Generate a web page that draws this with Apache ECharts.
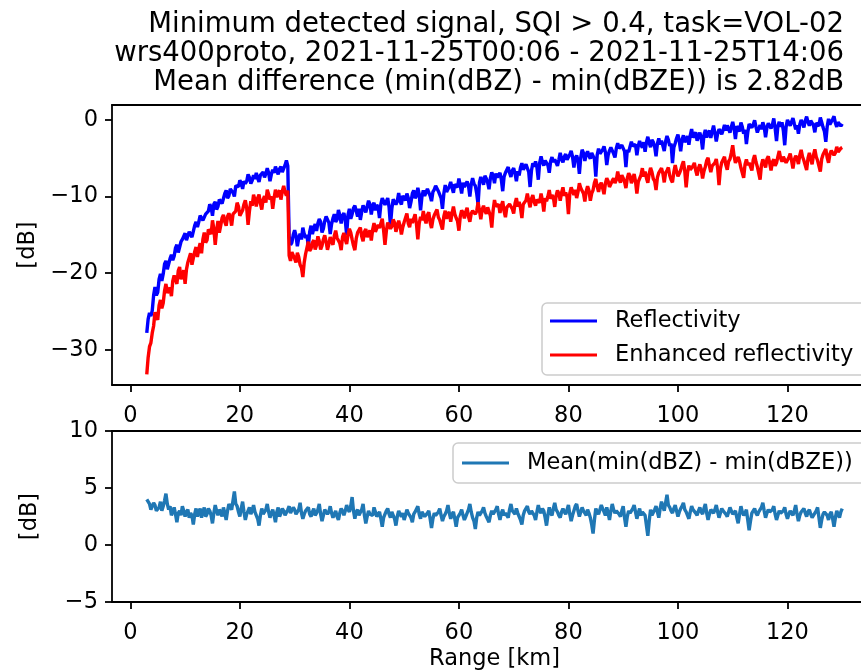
<!DOCTYPE html>
<html>
<head>
<meta charset="utf-8">
<script src="https://cdn.jsdelivr.net/npm/echarts@6/dist/echarts.min.js"></script>
<style>
html,body{margin:0;padding:0;background:#fff;overflow:hidden;}
#chart{width:861px;height:670px;}
</style>
</head>
<body>
<div id="chart"></div>
<script>
// Range bins (km): 3.0 km to 130.0 km every 0.25 km
const rangeStartKm = 3.0;
const rangeStepKm = 0.25;

// Minimum detected signal, Reflectivity (dBZ) [dB]
const reflectivity = [
  -27.8, -26.0, -25.2, -25.6, -24.9, -22.9, -21.8, -22.9, -22.5, -20.8, -20.1, -21.0, -20.1, -18.8, -18.4, -19.5, -19.7, -18.1, -17.6, -18.3,
  -17.8, -16.7, -16.3, -17.3, -17.4, -15.9, -15.6, -15.6, -14.8, -15.7, -15.8, -14.6, -14.4, -15.3, -15.5, -13.8, -13.3, -14.0, -13.3, -12.5,
  -12.4, -13.1, -13.3, -12.3, -12.4, -11.9, -11.0, -11.4, -12.5, -11.0, -10.7, -11.7, -11.3, -10.4, -10.2, -10.9, -11.1, -9.6, -9.2, -10.2,
  -9.9, -9.0, -8.8, -9.5, -10.0, -8.6, -8.5, -8.7, -7.9, -8.2, -9.0, -8.0, -8.3, -8.0, -7.1, -7.5, -8.3, -7.9, -7.2, -7.7,
  -6.9, -7.6, -8.1, -7.2, -7.0, -6.8, -7.5, -7.0, -6.3, -6.9, -8.0, -7.1, -6.5, -6.9, -6.1, -6.6, -7.1, -6.4, -6.1, -6.8,
  -6.6, -5.9, -5.3, -6.0,
  -15.2, -16.3, -16.0, -15.0, -14.4, -15.1, -16.5, -15.4, -14.85, -15.6, -14.05, -14.9, -15.4, -15.0, -16.6, -14.6, -13.8, -14.9, -14.15, -13.6,
  -14.5, -13.5, -12.95, -13.3, -14.7, -14.2, -13.2, -12.6, -12.75, -13.4, -14.9, -13.6, -12.85, -12.3, -13.3, -13.0, -11.75, -12.4, -13.5, -12.5,
  -12.15, -13.1, -15.0, -12.4, -11.6, -12.9, -12.3, -11.5, -11.2, -11.9, -12.6, -11.6, -13.05, -12.0, -11.15, -11.4, -12.05, -11.9, -10.55, -11.0,
  -12.35, -11.2, -10.8, -11.8, -11.1, -11.4, -12.8, -11.0, -10.2, -10.6, -11.1, -10.9, -10.2, -11.4, -13.75, -11.6, -10.35, -10.2, -11.05, -10.6,
  -9.55, -10.6, -11.05, -9.9, -10.05, -10.5, -9.6, -10.2, -11.5, -10.7, -9.6, -9.2, -10.2, -9.9, -8.85, -9.7, -11.8, -10.0, -9.2, -9.9,
  -9.8, -9.0, -8.85, -9.9, -10.6, -9.4, -9.1, -8.6, -8.55, -9.3, -9.75, -10.2, -11.6, -9.6, -8.5, -9.4, -9.05, -8.7, -8.1, -8.9,
  -9.5, -8.4, -8.65, -8.8, -7.65, -8.6, -9.6, -8.2, -8.75, -8.9, -8.05, -8.6, -10.0, -8.4, -7.6, -8.3, -8.6, -9.6, -11.0, -8.2,
  -7.45, -7.9, -8.45, -7.3, -7.65, -8.2, -9.05, -7.6, -6.85, -7.3, -8.25, -7.0, -7.5, -7.6, -6.9, -7.8, -9.3, -7.4, -6.9, -7.1,
  -6.15, -6.9, -7.45, -6.6, -6.3, -7.0, -8.0, -6.7, -7.25, -6.2, -5.65, -6.5, -6.5, -5.8, -5.6, -6.8, -8.75, -6.6, -5.65, -6.1,
  -5.4, -6.2, -7.8, -5.6, -4.75, -5.5, -5.95, -5.3, -5.2, -5.9, -6.9, -5.4, -4.85, -5.5, -5.15, -5.0, -6.0, -5.2, -4.3, -5.1,
  -5.55, -4.8, -4.45, -5.2, -5.0, -4.5, -4.05, -4.8, -6.2, -5.0, -4.65, -5.3, -7.05, -4.9, -3.9, -4.3, -5.35, -4.5, -4.1, -4.7,
  -5.05, -4.3, -4.2, -5.1, -7.4, -4.6, -3.75, -4.4, -4.5, -3.9, -3.45, -4.2, -5.9, -4.6, -4.0, -3.6, -3.55, -4.4, -4.9, -3.7,
  -3.05, -3.7, -3.9, -3.3, -3.2, -4.1, -6.15, -3.9, -4.2, -3.5, -2.85, -3.4, -3.25, -3.2, -4.6, -3.4, -2.75, -3.3, -3.6, -2.9,
  -4.15, -2.9, -2.2, -3.0, -3.55, -2.6, -2.9, -3.5, -4.75, -3.1, -2.4, -3.2, -2.7, -2.5, -4.05, -2.8, -2.1, -2.6, -3.4, -3.1,
  -5.65, -3.6, -3.05, -2.4, -1.9, -2.8, -4.1, -2.6, -2.0, -2.9, -2.55, -2.1, -3.25, -2.0, -1.2, -2.3, -2.0, -1.6, -2.7, -2.2,
  -1.65, -2.4, -3.85, -2.0, -1.3, -2.3, -1.7, -1.4, -2.35, -1.5, -0.75, -1.7, -2.8, -1.8, -1.2, -1.1, -1.85, -1.3, -0.65, -1.4,
  -0.7, -1.2, -1.65, -0.9, -0.25, -1.1, -2.5, -0.8, -1.0, -1.5, -0.35, -0.9, -1.8, -1.3, -3.15, -1.6, -0.55, -0.3, -1.0, -0.6,
  -0.05, -0.9, -1.65, -1.1, -0.7, -1.2, -0.3, -0.9, -2.25, -1.0, -0.45, -0.2, -1.1, -0.6, 0.2, -1.1, -2.75, -0.8, -0.25, -0.9,
  -0.3, -1.4, -3.3, -0.9, 0.0, -0.2, -0.75, -0.6, 0.25, -0.5, -1.23, -0.7, -1.81, -0.6, 0.0, -0.4, -0.98, -0.1, 0.43, -0.3,
  -0.75, -0.1, 0.16, -0.7, -1.62, -0.4, -0.2, -0.8, 0.31, -0.3, -0.97, -1.5, -2.86, -0.9, 0.15, -0.6, -0.44, 0.1, 0.47, -0.4,
  -0.9, -0.3, -0.1, -0.8, -0.5
];

// Minimum detected signal, Enhanced reflectivity (dBZE) [dB]
const enhancedReflectivity = [
  -33.2, -31.0, -29.6, -29.1, -27.8, -26.9, -25.1, -25.2, -26.1, -24.2, -23.5, -24.6, -23.9, -22.3, -21.4, -22.6, -22.2, -21.9, -23.0, -21.0,
  -20.3, -20.4, -21.4, -19.7, -19.2, -20.8, -20.3, -19.6, -21.4, -19.5, -18.6, -18.5, -17.4, -18.9, -18.7, -17.2, -16.6, -17.9, -16.8, -16.1,
  -17.4, -15.6, -14.7, -16.0, -15.7, -14.3, -14.6, -14.9, -13.1, -14.2, -16.3, -14.5, -13.2, -14.7, -13.8, -12.8, -12.4, -13.3, -13.8, -12.6,
  -12.2, -12.7, -13.8, -12.3, -12.1, -11.9, -10.8, -11.3, -12.5, -12.4, -11.8, -11.0, -10.5, -11.5, -13.7, -11.9, -10.6, -11.2, -9.75, -10.4,
  -11.3, -10.2, -9.75, -10.9, -11.7, -10.4, -9.95, -10.8, -9.1, -9.7, -10.4, -10.0, -11.6, -10.2, -9.1, -10.1, -9.5, -9.2, -10.4, -9.3,
  -8.6, -9.4, -9.9, -9.2,
  -17.7, -18.4, -17.25, -17.0, -18.1, -18.6, -17.35, -17.9, -18.9, -19.3, -20.5, -18.6, -17.5, -16.7, -15.9, -17.1, -16.8, -16.0, -15.7, -16.9,
  -16.35, -15.2, -15.8, -16.9, -16.4, -15.6, -15.05, -15.9, -16.95, -16.2, -15.3, -15.8, -16.3, -15.1, -14.45, -15.4, -15.75, -16.1, -17.0, -15.3,
  -14.75, -15.6, -16.2, -15.0, -14.2, -14.7, -15.6, -16.4, -17.0, -15.5, -14.7, -14.9, -14.05, -15.2, -15.85, -14.6, -14.25, -15.3, -14.85, -14.4,
  -15.75, -14.3, -13.45, -14.6, -14.85, -13.7, -14.1, -13.9, -12.9, -14.4, -16.3, -14.5, -13.4, -13.5, -14.2, -13.9, -13.0, -13.4, -14.6, -13.9,
  -13.15, -13.8, -14.95, -14.0, -13.35, -13.1, -12.2, -13.5, -14.0, -12.9, -13.45, -13.3, -12.3, -13.6, -15.6, -13.5, -12.65, -13.1, -11.9, -12.9,
  -13.5, -12.4, -12.05, -13.4, -14.1, -13.0, -12.45, -12.6, -11.7, -12.7, -13.05, -13.2, -14.3, -12.6, -11.85, -12.9, -12.35, -12.0, -13.3, -12.2,
  -11.3, -12.3, -12.8, -13.2, -14.45, -12.6, -11.8, -12.1, -12.85, -12.0, -11.45, -12.6, -13.3, -12.2, -11.85, -11.6, -12.3, -11.9, -10.75, -11.8,
  -12.95, -11.7, -11.2, -11.9, -12.25, -11.4, -11.3, -12.5, -14.05, -11.8, -10.45, -11.3, -11.5, -11.0, -12.15, -11.2, -10.6, -11.9, -12.7, -11.4,
  -11.6, -11.0, -10.8, -11.6, -12.2, -10.9, -10.2, -11.3, -10.7, -11.5, -12.8, -11.0, -11.2, -10.5, -9.6, -10.6, -11.4, -10.3, -9.8, -10.7,
  -11.2, -10.4, -10.15, -10.8, -9.6, -10.5, -11.95, -10.2, -10.6, -10.0, -9.15, -10.3, -9.8, -10.1, -11.35, -9.9, -9.2, -9.6, -10.55, -9.5,
  -8.8, -9.9, -9.45, -10.1, -12.3, -9.6, -8.8, -9.0, -9.8, -9.1, -10.2, -9.4, -8.25, -8.9, -9.25, -9.6, -10.65, -9.3, -8.65, -9.2,
  -10.55, -9.6, -9.15, -8.2, -7.7, -8.7, -9.4, -8.5, -8.2, -8.9, -9.7, -8.3, -7.6, -8.0, -8.75, -8.5, -7.95, -7.6, -8.25, -7.8,
  -6.75, -7.7, -8.2, -7.2, -7.6, -8.1, -8.9, -7.6, -6.95, -7.3, -8.25, -7.8, -7.05, -8.0, -9.6, -8.1, -7.85, -7.2, -6.3, -7.4,
  -6.75, -7.6, -8.2, -7.0, -6.25, -6.8, -7.7, -8.0, -9.15, -7.5, -6.9, -7.1, -6.3, -7.0, -8.15, -6.9, -6.6, -6.2, -7.25, -7.8,
  -8.15, -6.8, -5.9, -6.7, -7.35, -7.0, -6.55, -5.9, -5.4, -6.7, -8.8, -6.9, -5.95, -6.5, -6.75, -6.0, -5.6, -6.6, -7.25, -6.3,
  -5.8, -6.4, -7.65, -6.7, -6.1, -5.3, -4.95, -6.0, -6.8, -6.0, -6.25, -5.6, -5.1, -6.3, -8.5, -6.4, -5.55, -5.7, -4.8, -5.9,
  -6.5, -5.4, -5.1, -4.3, -3.3, -4.7, -5.6, -5.6, -4.85, -5.4, -6.25, -6.4, -7.55, -5.8, -5.15, -5.9, -5.6, -5.4, -6.6, -5.2,
  -4.6, -5.5, -6.1, -6.3, -7.8, -5.9, -5.15, -5.4, -6.2, -5.1, -4.75, -5.6, -6.6, -5.5, -5.15, -6.0, -5.6, -4.8, -4.05, -5.0,
  -5.45, -4.8, -5.0, -5.6, -5.65, -4.9, -4.4, -5.3, -6.35, -5.2, -4.7, -5.0, -5.75, -4.6, -3.9, -4.8, -5.3, -5.5, -6.55, -5.0,
  -4.3, -5.1, -5.8, -4.6, -3.85, -4.8, -5.3, -5.5, -6.75, -5.1, -4.5, -4.3, -3.8, -4.9, -5.6, -4.5, -4.0, -3.8, -4.6, -4.3,
  -3.5, -4.2, -4.4, -3.7, -3.6
];

// Mean(min(dBZ) - min(dBZE)) [dB]
const meanDifference = [
  4.0, 3.8, 3.6, 3.1, 3.2, 3.7, 3.5, 3.0, 2.9, 3.3, 3.8, 3.0, 3.4, 3.9, 4.5, 3.6, 3.1, 3.4, 2.6, 2.9,
  3.3, 2.7, 2.0, 2.8, 3.0, 2.6, 3.4, 3.0, 2.5, 2.9, 3.1, 2.4, 2.8, 2.6, 1.8, 2.7, 3.2, 2.5, 2.9, 3.2,
  2.4, 2.9, 3.3, 2.5, 2.7, 3.2, 3.0, 2.6, 1.9, 2.8, 3.5, 3.0, 2.6, 3.1, 2.9, 2.5, 3.3, 2.8, 2.2, 3.0,
  3.6, 3.3, 3.1, 3.9, 4.7, 3.6, 3.4, 2.9, 2.5, 3.2, 3.8, 2.9, 2.2, 2.7, 3.0, 3.3, 2.7, 3.0, 3.5, 2.9,
  2.6, 2.3, 1.7, 2.6, 3.2, 2.7, 2.9, 3.1, 3.6, 2.9, 2.4, 2.8, 3.1, 2.6, 2.0, 2.9, 3.3, 2.5, 2.8, 3.2,
  3.0, 2.6, 2.5, 3.1,
  3.4, 2.8, 2.9, 3.3, 3.1, 2.7, 2.6, 3.1, 3.7, 2.8, 2.3, 2.7, 3.0, 2.9, 3.3, 2.7, 2.5, 2.9, 3.2, 2.6,
  2.8, 3.1, 3.6, 2.7, 2.1, 2.6, 3.1, 3.0, 2.7, 2.9, 3.4, 2.8, 2.4, 2.7, 3.0, 2.5, 2.2, 2.8, 3.2, 3.0,
  2.6, 3.0, 3.5, 3.1, 2.9, 3.4, 4.2, 3.0, 2.3, 2.9, 3.1, 2.6, 2.7, 3.1, 3.6, 2.6, 1.9, 2.5, 3.0, 2.7,
  2.8, 2.6, 3.3, 2.9, 2.5, 2.7, 2.9, 2.3, 1.6, 2.4, 2.7, 3.0, 3.2, 2.7, 2.4, 2.9, 2.8, 2.3, 1.7, 2.5,
  3.0, 2.7, 2.5, 2.8, 2.2, 2.6, 3.1, 2.8, 2.6, 2.4, 2.0, 2.7, 2.9, 3.0, 3.4, 2.7, 2.3, 2.9, 2.7, 2.5,
  2.4, 2.8, 3.0, 2.3, 1.5, 2.3, 2.8, 2.6, 2.5, 2.9, 3.2, 2.6, 2.1, 2.5, 2.7, 3.0, 3.5, 2.8, 2.3, 2.7,
  2.9, 2.3, 1.6, 2.4, 2.6, 2.8, 3.1, 2.6, 2.2, 2.5, 2.8, 3.1, 3.6, 2.9, 2.4, 2.1, 1.4, 2.4, 2.9, 2.6,
  2.7, 3.0, 3.3, 2.8, 2.5, 2.4, 2.0, 2.6, 3.0, 2.7, 2.6, 3.1, 3.4, 2.7, 2.2, 2.8, 3.1, 2.6, 2.8, 2.9,
  2.4, 3.1, 3.6, 3.0, 2.9, 2.7, 3.2, 2.8, 2.5, 2.2, 1.8, 2.6, 3.0, 3.1, 3.4, 2.9, 2.7, 3.0, 3.1, 2.6,
  2.2, 2.9, 3.5, 3.0, 2.8, 3.2, 3.0, 2.4, 1.7, 2.6, 3.3, 2.8, 2.6, 3.2, 3.7, 3.1, 2.9, 2.6, 2.4, 2.9,
  3.2, 2.9, 2.7, 3.1, 3.5, 2.7, 2.1, 2.6, 3.0, 3.4, 3.6, 3.0, 2.5, 2.9, 3.3, 3.0, 2.8, 2.6, 3.1, 2.8,
  2.4, 1.8, 1.0, 2.2, 3.2, 2.9, 2.7, 3.1, 3.5, 3.2, 2.9, 2.6, 3.3, 2.8, 2.2, 3.0, 3.6, 3.1, 2.8, 3.0,
  3.1, 2.7, 2.5, 3.0, 3.4, 2.4, 1.6, 2.5, 3.0, 2.8, 2.7, 3.2, 3.5, 2.9, 2.3, 2.8, 3.2, 2.6, 2.9, 2.8,
  2.6, 1.7, 0.8, 2.1, 3.1, 2.6, 2.7, 3.1, 3.4, 2.9, 2.4, 3.2, 3.8, 3.4, 3.0, 3.7, 4.4, 3.5, 3.3, 3.0,
  2.8, 3.2, 3.5, 3.0, 2.5, 2.9, 3.2, 3.4, 3.7, 3.1, 2.9, 2.6, 2.3, 2.9, 3.4, 3.1, 3.0, 2.8, 2.6, 3.0,
  3.3, 2.9, 2.7, 3.2, 3.6, 2.8, 2.2, 2.7, 3.1, 3.0, 2.8, 3.1, 3.5, 2.9, 2.4, 2.8, 3.2, 3.0, 2.9, 2.7,
  2.5, 2.9, 3.3, 3.0, 2.7, 2.8, 3.0, 2.4, 1.9, 2.7, 3.4, 2.9, 2.6, 2.8, 3.1, 2.2, 1.3, 2.1, 2.8, 3.0,
  3.2, 2.8, 2.6, 2.9, 3.0, 3.3, 3.7, 3.0, 2.4, 2.8, 3.1, 2.9, 2.8, 3.1, 3.4, 2.7, 2.2, 2.6, 3.0, 2.8,
  2.7, 3.0, 3.3, 2.7, 2.3, 2.7, 3.0, 2.8, 2.6, 3.0, 3.5, 2.7, 2.1, 2.6, 2.9, 3.0, 3.2, 2.8, 2.5, 2.9,
  3.1, 2.7, 2.4, 2.6, 2.8, 3.0, 3.3, 2.4, 1.5, 2.2, 2.7, 2.9, 3.0, 2.6, 2.2, 2.7, 2.9, 2.3, 1.6, 2.4,
  3.0, 2.7, 2.4, 2.9, 3.2
];

// Tick labels
const xTicks = [0, 20, 40, 60, 80, 100, 120];
const yTicksTop = [-30, -20, -10, 0];
const yTicksBottom = [-5, 0, 5, 10];

const titleLines = [
  'Minimum detected signal, SQI > 0.4, task=VOL-02',
  'wrs400proto, 2021-11-25T00:06 - 2021-11-25T14:06',
  'Mean difference (min(dBZ) - min(dBZE)) is 2.82dB'
];
const seriesNames = ['Reflectivity', 'Enhanced reflectivity', 'Mean(min(dBZ) - min(dBZE))'];
const xAxisName = 'Range [km]';
const yAxisName = '[dB]';

const rangeKm = reflectivity.map((_, i) => rangeStartKm + rangeStepKm * i);
const pairs = (vals) => vals.map((v, i) => [rangeKm[i], v]);

const FONT = 'DejaVu Sans';
const TICK_FS = 22.5;
const X_MIN = -3.35, X_MAX = 136.35;
const minusFmt = (v) => String(v).replace('-', '\u2212');
const spine = {color: '#000', width: 1.8};

const chart = echarts.init(document.getElementById('chart'), null, {renderer: 'canvas'});

function xAxisCfg(gridIndex, showName) {
  return {
    type: 'value', gridIndex: gridIndex, position: 'bottom',
    min: X_MIN, max: X_MAX,
    axisLine: {show: true, onZero: false, lineStyle: spine},
    axisTick: {show: true, inside: false, length: 7, customValues: xTicks, lineStyle: spine},
    axisLabel: {show: true, customValues: xTicks, margin: 20, color: '#000', fontSize: TICK_FS, fontFamily: FONT, formatter: minusFmt},
    splitLine: {show: false},
    name: showName ? xAxisName : '',
    nameLocation: 'middle', nameGap: 46,
    nameTextStyle: {color: '#000', fontSize: TICK_FS, fontFamily: FONT}
  };
}
function topSpineCfg(gridIndex) {
  return {
    type: 'value', gridIndex: gridIndex, position: 'top',
    min: X_MIN, max: X_MAX,
    axisLine: {show: true, onZero: false, lineStyle: spine},
    axisTick: {show: false}, axisLabel: {show: false}, splitLine: {show: false}
  };
}
function yAxisCfg(gridIndex, min, max, ticks) {
  return {
    type: 'value', gridIndex: gridIndex, position: 'left',
    min: min, max: max,
    axisLine: {show: true, onZero: false, lineStyle: spine},
    axisTick: {show: true, inside: false, length: 7, customValues: ticks, lineStyle: spine},
    axisLabel: {show: true, customValues: ticks, margin: 14, color: '#000', fontSize: TICK_FS, fontFamily: FONT, formatter: minusFmt},
    splitLine: {show: false},
    name: yAxisName, nameLocation: 'middle', nameGap: 70, nameRotate: 90,
    nameTextStyle: {color: '#000', fontSize: TICK_FS, fontFamily: FONT}
  };
}

const option = {
  animation: false,
  backgroundColor: '#fff',
  textStyle: {fontFamily: FONT},
  title: {
    text: titleLines.join('\n'),
    left: 839, top: 5, textAlign: 'right',
    textStyle: {fontFamily: FONT, fontSize: 27.5, fontWeight: 'normal', color: '#000', lineHeight: 29, align: 'right'}
  },
  grid: [
    {left: 112, top: 105, width: 765, height: 280, outerBoundsMode: 'none', containLabel: false, show: false},
    {left: 112, top: 431, width: 765, height: 171, outerBoundsMode: 'none', containLabel: false, show: false}
  ],
  xAxis: [xAxisCfg(0, false), xAxisCfg(1, true), topSpineCfg(0), topSpineCfg(1)],
  yAxis: [yAxisCfg(0, -34.6, 1.95, yTicksTop), yAxisCfg(1, -5, 10, yTicksBottom)],
  legend: [
    {
      data: [seriesNames[0], seriesNames[1]],
      orient: 'vertical', left: 542, top: 303,
      itemWidth: 47, itemHeight: 3, itemGap: 10,
      icon: 'rect',
      padding: [6, 14, 8, 8],
      backgroundColor: 'rgba(255,255,255,0.8)',
      borderColor: '#cccccc', borderWidth: 1.5, borderRadius: 5,
      textStyle: {color: '#000', fontSize: TICK_FS, fontFamily: FONT, lineHeight: 24, padding: [0, 0, 0, 13]}
    },
    {
      data: [seriesNames[2]],
      orient: 'vertical', left: 453, top: 443,
      itemWidth: 47, itemHeight: 3, itemGap: 10,
      icon: 'rect',
      padding: [8, 14, 8, 9],
      backgroundColor: 'rgba(255,255,255,0.8)',
      borderColor: '#cccccc', borderWidth: 1.5, borderRadius: 5,
      textStyle: {color: '#000', fontSize: TICK_FS, fontFamily: FONT, lineHeight: 24, padding: [0, 0, 0, 13]}
    }
  ],
  series: [
    {name: seriesNames[0], type: 'line', xAxisIndex: 0, yAxisIndex: 0, data: pairs(reflectivity),
      showSymbol: false, symbol: 'none', color: '#0000ff', lineStyle: {color: '#0000ff', width: 3.4}, z: 2},
    {name: seriesNames[1], type: 'line', xAxisIndex: 0, yAxisIndex: 0, data: pairs(enhancedReflectivity),
      showSymbol: false, symbol: 'none', color: '#ff0000', lineStyle: {color: '#ff0000', width: 3.4}, z: 3},
    {name: seriesNames[2], type: 'line', xAxisIndex: 1, yAxisIndex: 1, data: pairs(meanDifference),
      showSymbol: false, symbol: 'none', color: '#1f77b4', lineStyle: {color: '#1f77b4', width: 3.4}, z: 2}
  ]
};
chart.setOption(option);
</script>
</body>
</html>
